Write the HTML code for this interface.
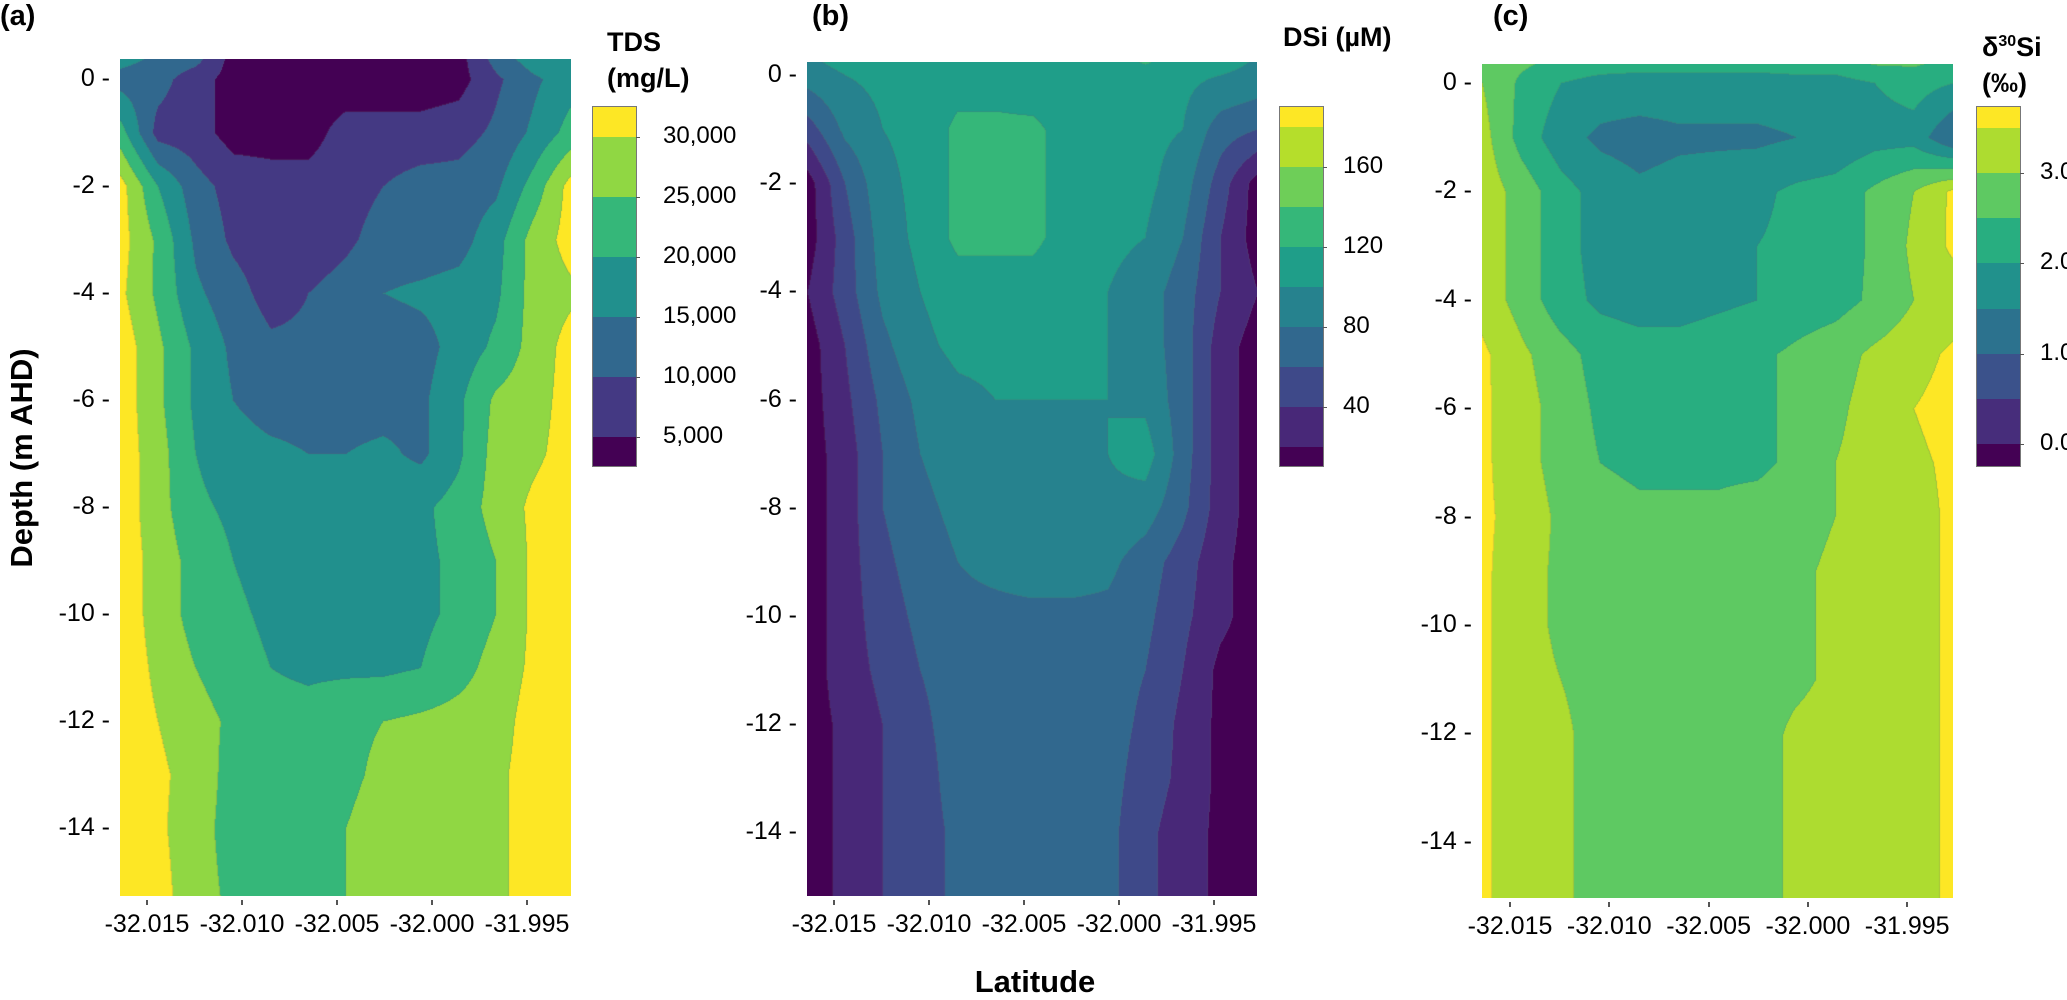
<!DOCTYPE html>
<html><head><meta charset="utf-8"><style>
body{margin:0;background:#fff;width:2067px;height:997px;position:relative;overflow:hidden;font-family:"Liberation Sans",Arial,sans-serif;color:#000}
.abs{position:absolute}
canvas{position:absolute}
.t{position:absolute;font-size:25px;white-space:nowrap}
.b{font-weight:bold}
</style></head><body>
<div class="abs b" style="left:0;top:0;font-size:29px">(a)</div>
<div class="abs b" style="top:0;font-size:29px;left:812px">(b)</div>
<div class="abs b" style="left:1493px;top:0;font-size:29px">(c)</div>
<div class="abs b" style="left:607px;top:24px;font-size:27px;line-height:36px">TDS<br>(mg/L)</div>
<div class="abs b" style="left:1283px;top:22px;font-size:27px">DSi (µM)</div>
<div class="abs b" style="left:1982px;top:24px;font-size:27px;line-height:36px">δ<sup style="font-size:16px">30</sup>Si<br>(‰)</div>
<div class="abs b" style="left:22px;top:458px;font-size:31px;transform:translate(-50%,-50%) rotate(-90deg);white-space:nowrap">Depth (m AHD)</div>
<div class="abs b" style="left:1035px;top:982px;font-size:31px;transform:translate(-50%,-50%)">Latitude</div>
<div id="root"></div>
<script>
const lats=[-32.0164,-32.01443,-32.01245,-32.01048,-32.0085,-32.00653,-32.00455,-32.00258,-32.0006,-31.99863,-31.99665,-31.99468,-31.9927];
const depths=[0.4,0,-1,-2,-3,-4,-5,-6,-7,-8,-9,-10,-11,-12,-13,-14,-15.3];
const tdsValues=[
[17,14,12,3,3,3,3,3,3,3,12,18,20],
[13,12,7,3,2,2,2,2,2,3,9,14,18],
[22,8,7,3,3,3,7,7,7,8,11,16,22],
[32,20,12,8,7,7,8,10,12,12,14,22,32],
[32,24,14,9,7,7,9,12,12,13,18,27,32],
[31,24,16,12,8,10,12,15,16,17,19,27,29],
[33,26,19,14,11,11,12,12,13,17,21,27,32],
[33,26,19,15,13,13,13,13,14,19,26,28,32],
[33,27,20,17,16,15,15,16,14,19,27,29,32],
[33,27,21,19,18,18,18,18,19,22,27,31,33],
[33,28,23,20,18,18,18,18,19,21,25,31,33],
[33,28,23,21,19,18,18,18,19,21,25,31,33],
[33,29,25,22,20,19,19,19,20,23,27,31,33],
[33,30,27,24,22,22,24,25,26,27,28,32,33],
[33,31,28,23,22,22,24,26,27,28,29,32,33],
[33,31,27,23,22,22,25,27,27,28,29,32,33],
[33,32,27,24,22,22,25,27,27,28,29,32,33]];
const dsiValues=[
[100,110,110,110,110,110,110,110,110,130,110,110,100],
[90,100,105,105,110,110,105,105,105,110,105,100,95],
[50,85,100,105,125,125,125,110,105,105,100,70,60],
[10,60,95,105,125,135,125,110,105,105,90,50,10],
[10,50,90,105,125,125,125,110,105,100,80,40,10],
[20,50,85,100,110,110,110,105,100,90,70,40,20],
[10,40,75,95,105,105,105,105,100,90,70,30,10],
[10,35,65,85,95,100,100,100,100,95,70,30,10],
[10,30,60,80,90,95,95,95,100,110,70,30,10],
[10,30,60,75,85,90,95,95,95,90,65,30,10],
[10,30,55,70,80,85,90,90,85,70,50,25,10],
[10,30,50,65,75,75,75,75,75,65,45,25,10],
[10,30,45,60,70,70,70,70,70,60,40,15,10],
[10,25,40,55,70,70,70,70,70,55,35,15,10],
[10,25,40,50,70,70,75,70,68,50,35,15,10],
[10,25,40,50,65,70,75,70,66,45,30,15,10],
[10,25,40,50,65,70,75,70,66,45,30,15,10]];
const d30Values=[
[2.7,2.6,2.4,2.3,2.2,2.2,2.2,2.2,2.3,2.3,2.6,2.6,2.4],
[3.0,2.4,2.0,1.8,1.8,1.8,1.8,1.8,1.8,1.8,2.0,2.2,2.0],
[3.2,2.3,1.7,1.4,1.3,1.4,1.4,1.4,1.5,1.6,1.8,1.8,1.0],
[3.3,2.8,2.2,1.8,1.6,1.7,1.8,1.9,2.1,2.2,2.6,3.0,3.6],
[3.3,2.8,2.2,1.8,1.7,1.7,1.8,2.0,2.1,2.2,2.6,3.1,3.6],
[3.3,2.8,2.2,1.9,1.8,1.8,1.9,2.0,2.2,2.3,2.6,3.0,3.2],
[3.6,3.1,2.7,2.3,2.2,2.2,2.3,2.4,2.6,2.8,3.1,3.3,3.6],
[3.6,3.2,2.8,2.4,2.3,2.3,2.3,2.4,2.6,2.9,3.2,3.5,3.7],
[3.6,3.2,2.8,2.5,2.4,2.4,2.4,2.4,2.6,3.0,3.2,3.4,3.6],
[3.6,3.3,2.9,2.7,2.6,2.6,2.6,2.7,2.8,3.0,3.2,3.3,3.6],
[3.6,3.2,2.9,2.8,2.7,2.7,2.7,2.8,2.9,3.1,3.2,3.3,3.6],
[3.6,3.2,2.9,2.8,2.7,2.7,2.7,2.8,2.9,3.1,3.2,3.3,3.6],
[3.6,3.2,3.0,2.8,2.7,2.7,2.7,2.8,2.9,3.1,3.2,3.3,3.6],
[3.6,3.2,3.1,2.8,2.7,2.7,2.7,2.8,3.1,3.2,3.2,3.3,3.6],
[3.6,3.2,3.1,2.8,2.7,2.7,2.7,2.8,3.1,3.2,3.2,3.3,3.6],
[3.6,3.2,3.1,2.8,2.7,2.7,2.7,2.8,3.1,3.2,3.2,3.3,3.6],
[3.6,3.2,3.1,2.8,2.7,2.7,2.7,2.8,3.1,3.2,3.2,3.3,3.6]];
const tdsLevels=[5,10,15,20,25,30];
const dsiLevels=[20,40,60,80,100,120,140,160,180];
const d30Levels=[0,0.5,1,1.5,2,2.5,3,3.5];
const tdsColors=["#440154","#443983","#31688e","#21908d","#35b779","#90d743","#fde725"];
const dsiColors=["#440154","#482878","#3e4989","#31688e","#26828e","#1f9e89","#35b779","#6ece58","#b5de2b","#fde725"];
const d30Colors=["#440154","#472d7b","#3b528b","#2c728e","#21918c","#28ae80","#5ec962","#addc30","#fde725"];
const latTicks=[-32.015,-32.010,-32.005,-32.000,-31.995];
const depthTicks=[0,-2,-4,-6,-8,-10,-12,-14];
const tdsTickLabels=["5,000","10,000","15,000","20,000","25,000","30,000"];
const dsiTickLabels=["40","80","120","160"];const dsiTickVals=[40,80,120,160];
const d30TickLabels=["0.0","1.0","2.0","3.0"];const d30TickVals=[0,1,2,3];

const root=document.getElementById('root');
function mk(tag,css,txt){const e=document.createElement(tag);e.style.cssText=css;if(txt!==undefined)e.textContent=txt;root.appendChild(e);return e;}
function interp(vals,lat,d){
  let i=0;while(i<lats.length-2&&lat>lats[i+1])i++;
  let j=0;while(j<depths.length-2&&d<depths[j+1])j++;
  let u=(lat-lats[i])/(lats[i+1]-lats[i]);u=Math.max(0,Math.min(1,u));
  let v=(depths[j]-d)/(depths[j]-depths[j+1]);v=Math.max(0,Math.min(1,v));
  const a=vals[j][i],b=vals[j][i+1],c=vals[j+1][i],e=vals[j+1][i+1];
  return a*(1-u)*(1-v)+b*u*(1-v)+c*(1-u)*v+e*u*v;
}
function band(levels,val){let k=0;while(k<levels.length&&val>=levels[k])k++;return k;}
function hex(h){return [parseInt(h.substr(1,2),16),parseInt(h.substr(3,2),16),parseInt(h.substr(5,2),16)];}
const panels=[
 {id:'tds',left:120,right:571,top:59,bottom:896,y0:79,ppm:53.5,tick0:147,ppd:19000,vals:tdsValues,levels:tdsLevels,colors:tdsColors,cb:593,lab:663},
 {id:'dsi',left:807,right:1257,top:62,bottom:896,y0:75,ppm:54.1,tick0:834,ppd:19000,vals:dsiValues,levels:dsiLevels,colors:dsiColors,cb:1280,lab:1343},
 {id:'d30si',left:1482,right:1953,top:64,bottom:898,y0:83,ppm:54.2,tick0:1510,ppd:19860,vals:d30Values,levels:d30Levels,colors:d30Colors,cb:1977,lab:2040}];
panels.forEach(p=>{
  const W=p.right-p.left,H=p.bottom-p.top;
  const cv=document.createElement('canvas');cv.width=W;cv.height=H;
  cv.style.left=p.left+'px';cv.style.top=p.top+'px';
  
  
  root.appendChild(cv);
  const ctx=cv.getContext('2d');const img=ctx.createImageData(W,H);
  const rgb=p.colors.map(hex);
  const bands=new Int16Array(W*H);
  for(let y=0;y<H;y++){const d=(p.y0-(p.top+y))/p.ppm;
    for(let x=0;x<W;x++){const lat=latTicks[0]+(p.left+x-p.tick0)/p.ppd;
      bands[y*W+x]=band(p.levels,interp(p.vals,lat,d));}}
  for(let y=0;y<H;y++)for(let x=0;x<W;x++){const k=bands[y*W+x];
    let c=rgb[k];
    if((x<W-1&&bands[y*W+x+1]!==k)||(y<H-1&&bands[(y+1)*W+x]!==k)){c=c.map(v=>Math.round(v*0.8+100*0.2));}
    const o=(y*W+x)*4;img.data[o]=c[0];img.data[o+1]=c[1];img.data[o+2]=c[2];img.data[o+3]=255;}
  ctx.putImageData(img,0,0);
  depthTicks.forEach(t=>{const y=p.y0-t*p.ppm;
    const l=mk('div','right:'+(2067-p.left+10)+'px;top:'+(y-15)+'px;');l.className='t';l.textContent=t+' -';
    
    });
  latTicks.forEach(t=>{const x=p.tick0+(t-latTicks[0])*p.ppd;
    const tk=mk('div','left:'+(x-1)+'px;top:'+(p.bottom+4)+'px;width:2px;height:5px;background:#555;position:absolute');
    
    
    const l=mk('div','left:'+x+'px;top:'+(p.bottom+14)+'px;transform:translateX(-50%)');l.className='t';l.textContent=t.toFixed(3);
    
    });
});
function colorbar(p,bounds,tickYs,labels){
  const n=p.colors.length;
  for(let k=0;k<n;k++){const yb=bounds[k],yt=bounds[k+1];
    const r=mk('div','position:absolute;left:'+p.cb+'px;top:'+yt+'px;width:43px;height:'+(yb-yt)+'px;background:'+p.colors[k]);
    
    }
  const fr=mk('div','position:absolute;left:'+(p.cb-1)+'px;top:'+(bounds[n]-1)+'px;width:43px;height:'+(bounds[0]-bounds[n])+'px;border:1px solid #777');
  
  
  tickYs.forEach((y,i)=>{const tk=mk('div','position:absolute;left:'+(p.cb+43)+'px;top:'+y+'px;width:4px;height:1px;background:#555');
    
    
    const l=mk('div','left:'+p.lab+'px;top:'+(y-15)+'px;');l.className='t';l.style.fontSize='24px';l.textContent=labels[i];
    
    });
}
(function(){const p=panels[0];const yOf=v=>437-(v-5)*12;
  const b=[466].concat(tdsLevels.map(yOf)).concat([107]);
  colorbar(p,b,tdsLevels.map(yOf),tdsTickLabels);})();
(function(){const p=panels[1];const yOf=v=>407-(v-40)*2;
  const b=[466].concat(dsiLevels.map(yOf)).concat([107]);
  colorbar(p,b,dsiTickVals.map(yOf),dsiTickLabels);})();
(function(){const p=panels[2];const yOf=v=>444-v*90.3;
  const b=[466].concat(d30Levels.map(yOf)).concat([107]);
  colorbar(p,b,d30TickVals.map(yOf),d30TickLabels);})();
</script>
</body></html>
